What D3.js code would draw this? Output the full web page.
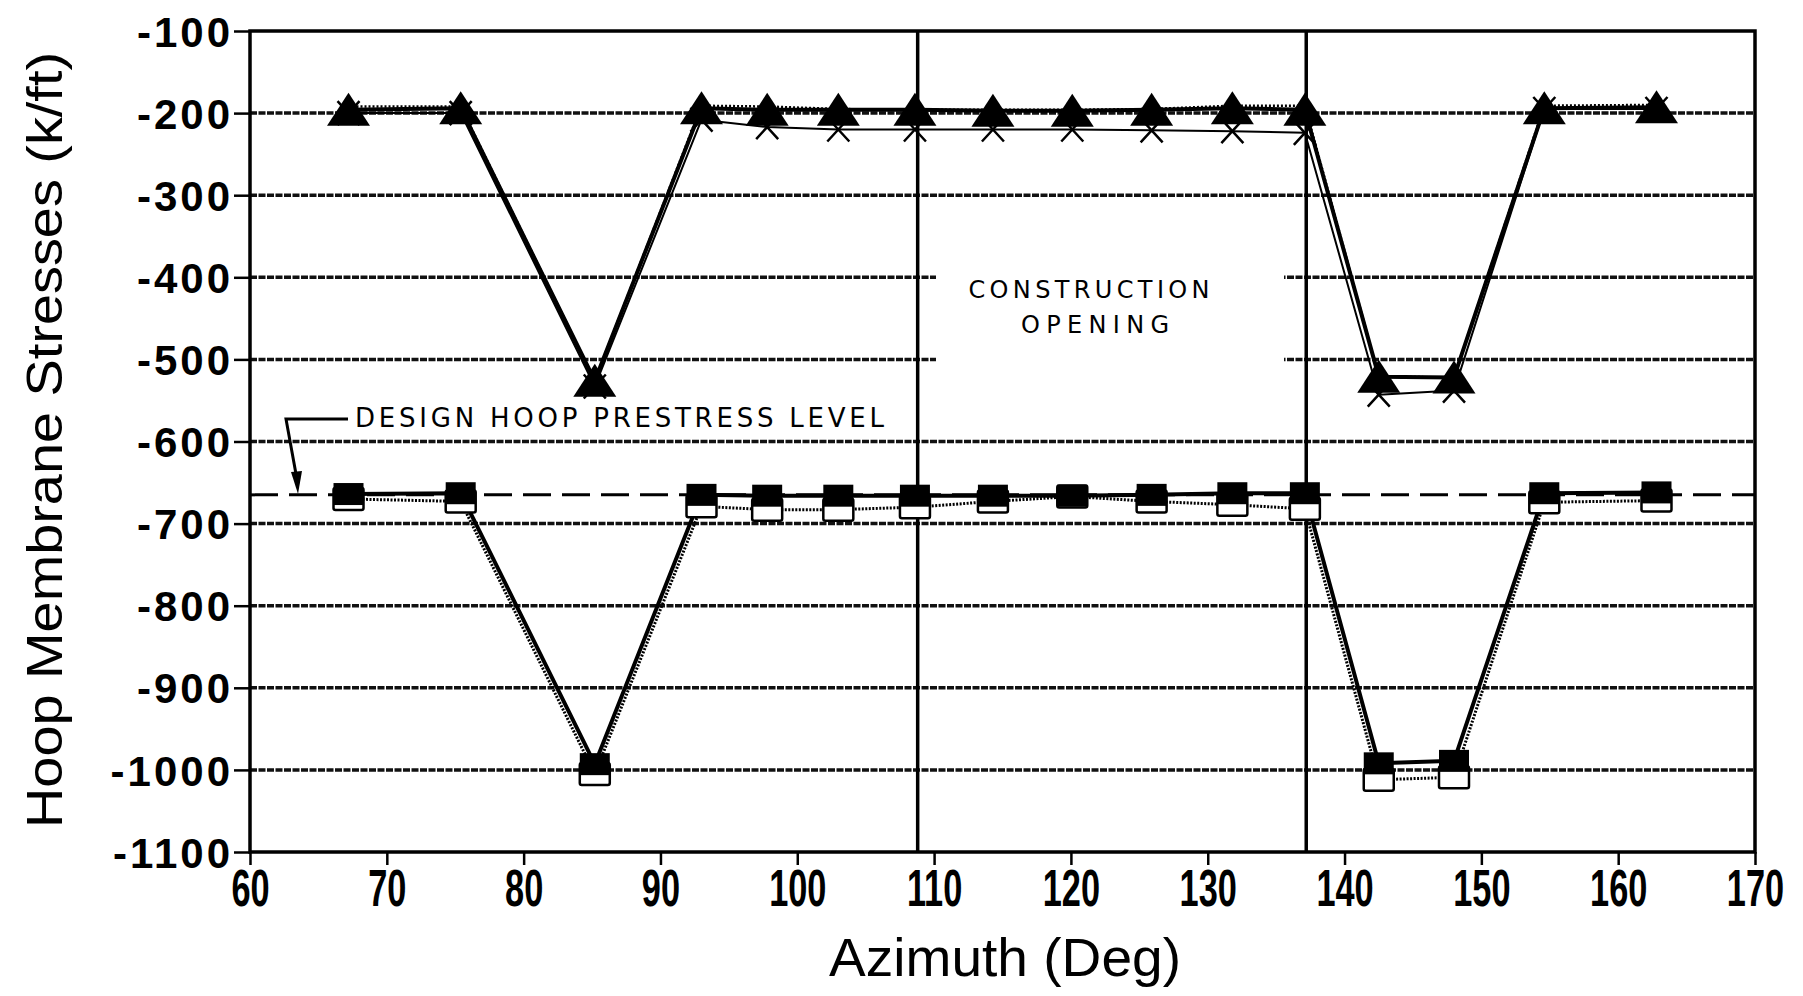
<!DOCTYPE html>
<html>
<head>
<meta charset="utf-8">
<script src="https://cdn.jsdelivr.net/npm/d3@7"></script>
<style>
  body { margin: 0; background: #fff; }
  svg { display: block; font-family: "Liberation Sans", Arial, sans-serif; }
</style>
</head>
<body>
<svg id="chart"></svg>
<script>
const width = 1803,
    height = 996;

// azimuth of each gauge (deg)
const azimuth = [67.2, 75.4, 85.2, 93.0, 97.8, 103.0, 108.6, 114.3, 120.1, 125.9, 131.8, 137.1, 142.5, 148.0, 154.6, 162.8];

// upper group of readings
const triangles = [-196, -194, -526, -194, -196, -196, -196, -197, -197, -196, -194, -196, -521, -522, -194, -193];
const crosses = [-200, -200, -533, -208, -217, -220, -220, -220, -220, -221, -222, -224, -543, -538, -195, -195];
const upperDotted = [-192, -192, -526, -191, -192, -195, -196, -196, -196, -195, -191, -191, -521, -522, -191, -190];

// lower group of readings
const filledSquares = [-664, -663, -993, -665, -666, -666, -666, -666, -666, -665, -663, -663, -992, -989, -663, -662];
const openSquares = [-670, -673, -1005, -679, -683, -683, -680, -673, -667, -673, -677, -682, -1012, -1009, -674, -672];

const designLevel = -665;
const openingEdges = [108.8, 137.2];

const xTicks = [60, 70, 80, 90, 100, 110, 120, 130, 140, 150, 160, 170];
const yTicks = [-100, -200, -300, -400, -500, -600, -700, -800, -900, -1000, -1100];

let svg = d3.select('#chart')
    .attr('width', width)
    .attr('height', height);

let x = d3.scaleLinear().domain([60, 170]).range([250, 1755]);
let y = d3.scaleLinear().domain([-100, -1100]).range([31, 852]);

// grid
svg.append('g')
    .selectAll('line')
    .data(yTicks.filter(d => d !== -100 && d !== -1100))
    .join('line')
    .attr('x1', x(60))
    .attr('x2', x(170))
    .attr('y1', d => y(d))
    .attr('y2', d => y(d))
    .attr('stroke', '#111')
    .attr('stroke-width', 3.5)
    .attr('stroke-dasharray', '7 1.5');

// blank patch behind the opening label
svg.append('rect')
    .attr('x', 936)
    .attr('y', y(-370))
    .attr('width', 1284 - 936)
    .attr('height', y(-530) - y(-370))
    .attr('fill', '#fff');

// construction opening edges
svg.append('g')
    .selectAll('line')
    .data(openingEdges)
    .join('line')
    .attr('x1', d => x(d))
    .attr('x2', d => x(d))
    .attr('y1', y(-100))
    .attr('y2', y(-1100))
    .attr('stroke', '#000')
    .attr('stroke-width', 3.5);

// design prestress level
svg.append('line')
    .attr('x1', x(60))
    .attr('x2', x(170))
    .attr('y1', y(designLevel))
    .attr('y2', y(designLevel))
    .attr('stroke', '#000')
    .attr('stroke-width', 3)
    .attr('stroke-dasharray', '28 11');

function series(values) {
    return values.map((v, i) => ({az: azimuth[i], v: v}));
}

let line = d3.line().x(d => x(d.az)).y(d => y(d.v));

function drawLine(values, w, dash) {
    svg.append('path')
        .datum(series(values))
        .attr('d', line)
        .attr('fill', 'none')
        .attr('stroke', '#000')
        .attr('stroke-width', w)
        .attr('stroke-dasharray', dash)
        .attr('stroke-linejoin', 'round');
}

drawLine(openSquares, 3, '2 1.5');
drawLine(filledSquares, 4, null);
drawLine(crosses, 2, null);
drawLine(upperDotted, 2.5, '2 2');
drawLine(triangles, 4, null);

// markers
svg.append('g')
    .selectAll('rect')
    .data(series(openSquares))
    .join('rect')
    .attr('x', d => x(d.az) - 15)
    .attr('y', d => y(d.v) - 11)
    .attr('width', 30)
    .attr('height', 22)
    .attr('rx', 2)
    .attr('fill', '#fff')
    .attr('stroke', '#000')
    .attr('stroke-width', 2.5);

svg.append('g')
    .selectAll('rect')
    .data(series(filledSquares))
    .join('rect')
    .attr('x', d => x(d.az) - 15)
    .attr('y', d => y(d.v) - 11)
    .attr('width', 30)
    .attr('height', 22)
    .attr('fill', '#000');

svg.append('g')
    .selectAll('path')
    .data(series(crosses))
    .join('path')
    .attr('transform', d => `translate(${x(d.az)},${y(d.v)})`)
    .attr('d', 'M-11,-12L11,12M11,-12L-11,12')
    .attr('stroke', '#000')
    .attr('stroke-width', 2.5)
    .attr('fill', 'none');

svg.append('g')
    .selectAll('path')
    .data(series(triangles))
    .join('path')
    .attr('transform', d => `translate(${x(d.az)},${y(d.v)})`)
    .attr('d', 'M0,-17L21.5,16L-21.5,16Z')
    .attr('fill', '#000');

// frame
svg.append('rect')
    .attr('x', x(60))
    .attr('y', y(-100))
    .attr('width', x(170) - x(60))
    .attr('height', y(-1100) - y(-100))
    .attr('fill', 'none')
    .attr('stroke', '#000')
    .attr('stroke-width', 3.5);

// axes
let yAxis = svg.append('g')
    .attr('transform', `translate(${x(60)},0)`)
    .call(d3.axisLeft(y).tickValues(yTicks).tickSize(16).tickSizeOuter(0).tickPadding(1)
        .tickFormat(d => '-' + Math.abs(d)));
yAxis.select('.domain').remove();
yAxis.selectAll('.tick line').attr('stroke', '#000').attr('stroke-width', 2.5);
yAxis.selectAll('.tick text')
    .attr('fill', '#000')
    .attr('font-family', '"Liberation Sans", Arial, sans-serif')
    .attr('font-size', 42)
    .attr('font-weight', 'bold')
    .attr('letter-spacing', 3)
    .attr('dy', '0.36em');

let xAxis = svg.append('g')
    .attr('transform', `translate(0,${y(-1100)})`)
    .call(d3.axisBottom(x).tickValues(xTicks).tickSize(13).tickSizeOuter(0).tickPadding(4));
xAxis.select('.domain').remove();
xAxis.selectAll('.tick line').attr('stroke', '#000').attr('stroke-width', 2.5);
// narrow, tall numerals
xAxis.selectAll('.tick text')
    .attr('fill', '#000')
    .attr('font-family', '"Liberation Sans", Arial, sans-serif')
    .attr('font-size', 52)
    .attr('font-weight', 'bold')
    .attr('transform', 'scale(0.66,1)');

// titles
svg.append('text')
    .attr('x', 1005)
    .attr('y', 976)
    .attr('text-anchor', 'middle')
    .attr('font-size', 54)
    .attr('textLength', 352)
    .attr('lengthAdjust', 'spacingAndGlyphs')
    .text('Azimuth (Deg)');

svg.append('text')
    .attr('transform', 'translate(62,440) rotate(-90)')
    .attr('text-anchor', 'middle')
    .attr('font-size', 50)
    .attr('textLength', 776)
    .attr('lengthAdjust', 'spacingAndGlyphs')
    .text('Hoop Membrane Stresses (k/ft)');

// annotations
let note = svg.append('g')
    .attr('font-family', '"DejaVu Sans", sans-serif')
    .attr('fill', '#000');

note.append('text')
    .attr('x', 1089).attr('y', 298)
    .attr('text-anchor', 'middle')
    .attr('font-size', 24)
    .attr('textLength', 241)
    .attr('lengthAdjust', 'spacing')
    .text('CONSTRUCTION');
note.append('text')
    .attr('x', 1095).attr('y', 333)
    .attr('text-anchor', 'middle')
    .attr('font-size', 24)
    .attr('textLength', 148)
    .attr('lengthAdjust', 'spacing')
    .text('OPENING');
note.append('text')
    .attr('x', 355).attr('y', 427)
    .attr('font-size', 26)
    .attr('textLength', 529)
    .attr('lengthAdjust', 'spacing')
    .text('DESIGN HOOP PRESTRESS LEVEL');

// leader arrow to the dashed level
svg.append('path')
    .attr('d', 'M348,419L286,419L296,474')
    .attr('fill', 'none')
    .attr('stroke', '#000')
    .attr('stroke-width', 3);
svg.append('path')
    .attr('d', 'M291,472L302,471L298,494Z')
    .attr('fill', '#000');
</script>
</body>
</html>
